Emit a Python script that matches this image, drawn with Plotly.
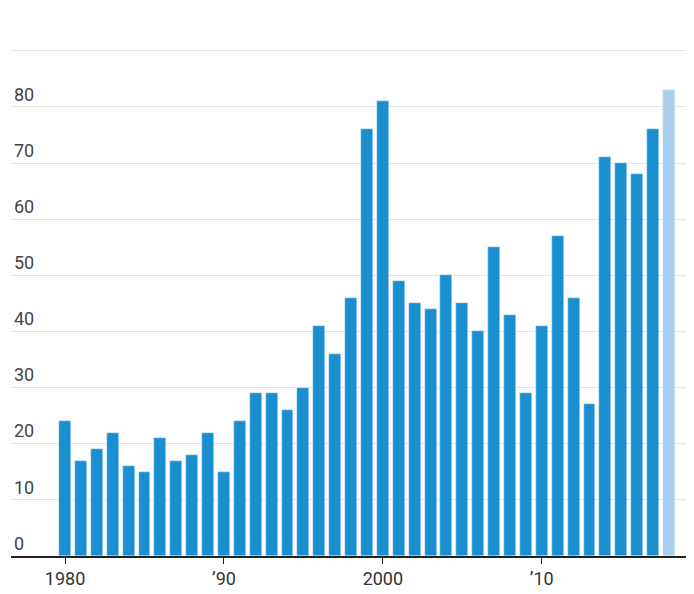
import plotly.graph_objects as go

years = list(range(1980, 2019))
values = [24, 17, 19, 22, 16, 15, 21, 17, 18, 22,
          15, 24, 29, 29, 26, 30, 41, 36, 46, 76,
          81, 49, 45, 44, 50, 45, 40, 55, 43, 29,
          41, 57, 46, 27, 71, 70, 68, 76, 83]
tick_vals = [1980, 1990, 2000, 2010]
tick_text = ["1980", "’90", "2000", "’10"]
y_ticks = [0, 10, 20, 30, 40, 50, 60, 70, 80, 90]
y_text = ["0", "10", "20", "30", "40", "50", "60", "70", "80", "90%"]

colors = ["#1a8fd0"] * (len(years) - 1) + ["#a6d0ee"]

fig = go.Figure(go.Bar(x=years, y=values, marker_color=colors, width=0.75))

font = dict(family="Liberation Sans Narrow, Roboto, sans-serif", size=18, color="#333")
fig.update_layout(
    width=694, height=594,
    margin=dict(l=3, r=14, t=26, b=46),
    plot_bgcolor="white", paper_bgcolor="white",
    showlegend=False, bargap=0,
    font=font,
)
fig.update_xaxes(range=[1976.6, 2019.2], tickvals=tick_vals, ticktext=tick_text,
                 ticks="outside", ticklen=6, tickcolor="#222", showline=True,
                 linecolor="#222", linewidth=1.5, showgrid=False, zeroline=False)
fig.update_yaxes(range=[0, 93], tickvals=y_ticks, ticktext=y_text,
                 ticklabelposition="inside top", showgrid=True, gridcolor="#e3e3e3",
                 zeroline=False, ticks="")

fig.write_html("out.html")
